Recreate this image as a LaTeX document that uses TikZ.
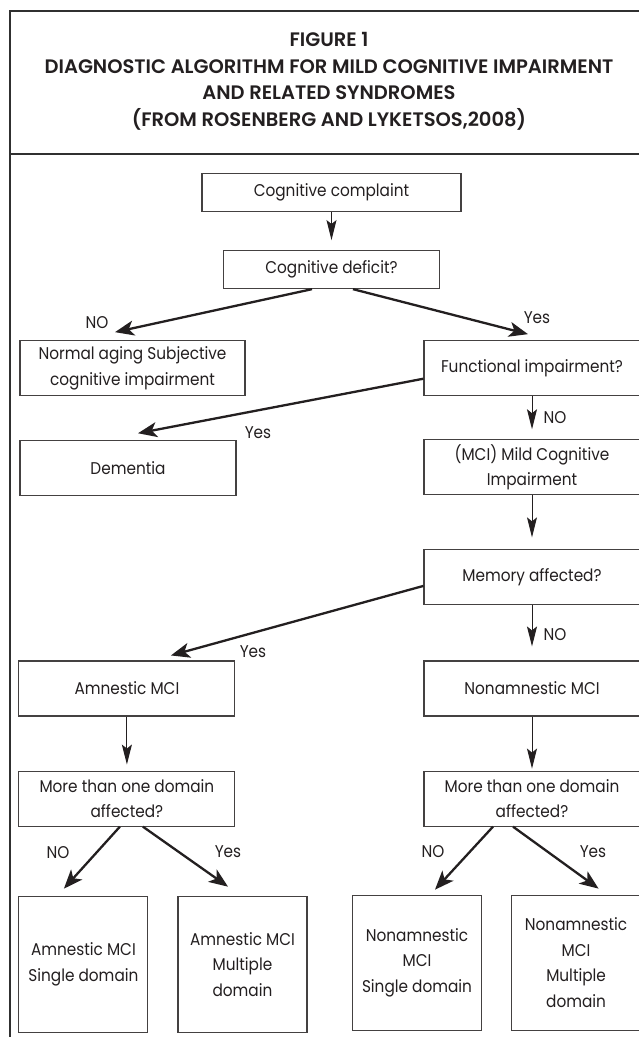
\documentclass[tikz,border=0pt]{standalone}
\usepackage{fontspec}
\setmainfont{Poppins}[FakeStretch=0.9]
\newfontfamily\headfont{Poppins SemiBold}
\usepackage{tikz}
\usetikzlibrary{arrows.meta,positioning,calc}
\definecolor{ink}{HTML}{231F20}
\definecolor{rule}{HTML}{303030}
\tikzset{
  box/.style={draw=ink!85,fill=white,line width=1.1pt,align=center,inner sep=2pt,
    minimum width=216pt,minimum height=55pt,font=\fontsize{17}{25.5}\selectfont,text=ink},
  boxs/.style={box,minimum height=38pt},
  boxt/.style={box,minimum width=129pt,minimum height=136pt},
  arr/.style={-{Stealth[length=20pt,width=10pt,inset=4pt]},line width=1pt,color=ink},
  arrd/.style={-{Stealth[length=19pt,width=15pt,inset=5pt]},line width=2.3pt,color=ink},
  lbl/.style={font=\fontsize{17}{18}\selectfont,text=ink,inner sep=0pt},
  head/.style={font=\fontsize{19.5}{26.5}\selectfont\headfont,text=ink,align=center},
  frame/.style={line width=2.6pt,color=rule},
}
\begin{document}
\begin{tikzpicture}[x=1pt,y=-1pt,node distance=50pt]
\useasboundingbox[fill=white] (0,0) rectangle (639,1037);
% outer frame and title
\draw[frame] (645,11) -- (10,11) -- (10,1040);
\draw[frame] (10,154) -- (645,154);
\node[head] (title) at (329,81.5) {FIGURE 1\\ DIAGNOSTIC ALGORITHM FOR MILD COGNITIVE IMPAIRMENT\\ AND RELATED SYNDROMES\\ (FROM ROSENBERG AND LYKETSOS,2008)};
% boxes
\node[boxs,minimum width=259pt] (cc) at (331.5,192.5) {Cognitive complaint};
\node[boxs,below=38pt of cc] (cd) {Cognitive deficit?};
\node[box,below=51pt of cd,xshift=-199pt,minimum width=225pt] (na) {Normal aging Subjective\\ cognitive impairment};
\node[box,below=51pt of cd,xshift=200.5pt] (fi) {Functional impairment?};
\node[box,below=44pt of na,xshift=-4.5pt] (de) {Dementia};
\node[box,below=43pt of fi] (mci) {(MCI) Mild Cognitive\\ Impairment};
\node[box,below=54pt of mci] (mem) {Memory affected?};
\node[box,below=55pt of mem] (nam) {Nonamnestic MCI};
\node[box,left=188pt of nam] (am) {Amnestic MCI};
\node[box,below=54pt of am] (amd) {More than one domain\\ affected?};
\node[box,below=54pt of nam] (namd) {More than one domain\\ affected?};
\node[boxt,below=69pt of amd,xshift=-43.5pt] (as) {Amnestic MCI\\ Single domain};
\node[boxt,right=29pt of as] (amm) {Amnestic MCI\\ Multiple\\ domain};
\node[boxt,below=68pt of namd,xshift=-115pt,minimum height=135pt] (ns) {Nonamnestic\\ MCI\\ Single domain};
\node[boxt,right=29pt of ns,minimum height=135pt] (nm) {Nonamnestic\\ MCI\\ Multiple\\ domain};
% labels
\node[lbl] (l1) at (97,323) {NO};
\node[lbl] (l2) at (537,318) {Yes};
\node[lbl] (l3) at (258,433) {Yes};
\node[lbl] (l4) at (555,418) {NO};
\node[lbl] (l5) at (253,652) {Yes};
\node[lbl] (l6) at (555,635) {NO};
\node[lbl] (l7) at (58,853) {NO};
\node[lbl] (l8) at (228,852) {Yes};
\node[lbl] (l9) at (433,852) {NO};
\node[lbl] (l10) at (593,852) {Yes};
% connectors
\draw[arr,shorten >=10pt] (cc) -- (cd);
\draw[arrd] ([xshift=-19.5pt]cd.south) -- ([shift={(-17.5,-8)}]na.north);
\draw[arrd] ([xshift=21.5pt]cd.south) -- ([shift={(-4,-6)}]fi.north);
\draw[arrd] ([shift={(0,10.5)}]fi.west) -- ([shift={(10,-7)}]de.north);
\draw[arr,shorten >=10pt] (fi) -- (mci);
\draw[arr,shorten >=12pt] (mci) -- (mem);
\draw[arrd] ([shift={(0,8.5)}]mem.west) -- ([shift={(44,-5)}]am.north);
\draw[arr,shorten >=14pt] (mem) -- (nam);
\draw[arr,shorten >=6pt] (am) -- (amd);
\draw[arr,shorten >=2pt] (nam) -- (namd);
\draw[arrd] ([xshift=-7pt]amd.south) -- ([shift={(-19.5,-7)}]as.north);
\draw[arrd] ([xshift=16pt]amd.south) -- ([shift={(-14.5,-9)}]amm.north);
\draw[arrd] ([xshift=-39pt]namd.south) -- ([shift={(18,-5)}]ns.north);
\draw[arrd] ([xshift=-19pt]namd.south) -- ([shift={(22.5,-6)}]nm.north);
\end{tikzpicture}
\end{document}
